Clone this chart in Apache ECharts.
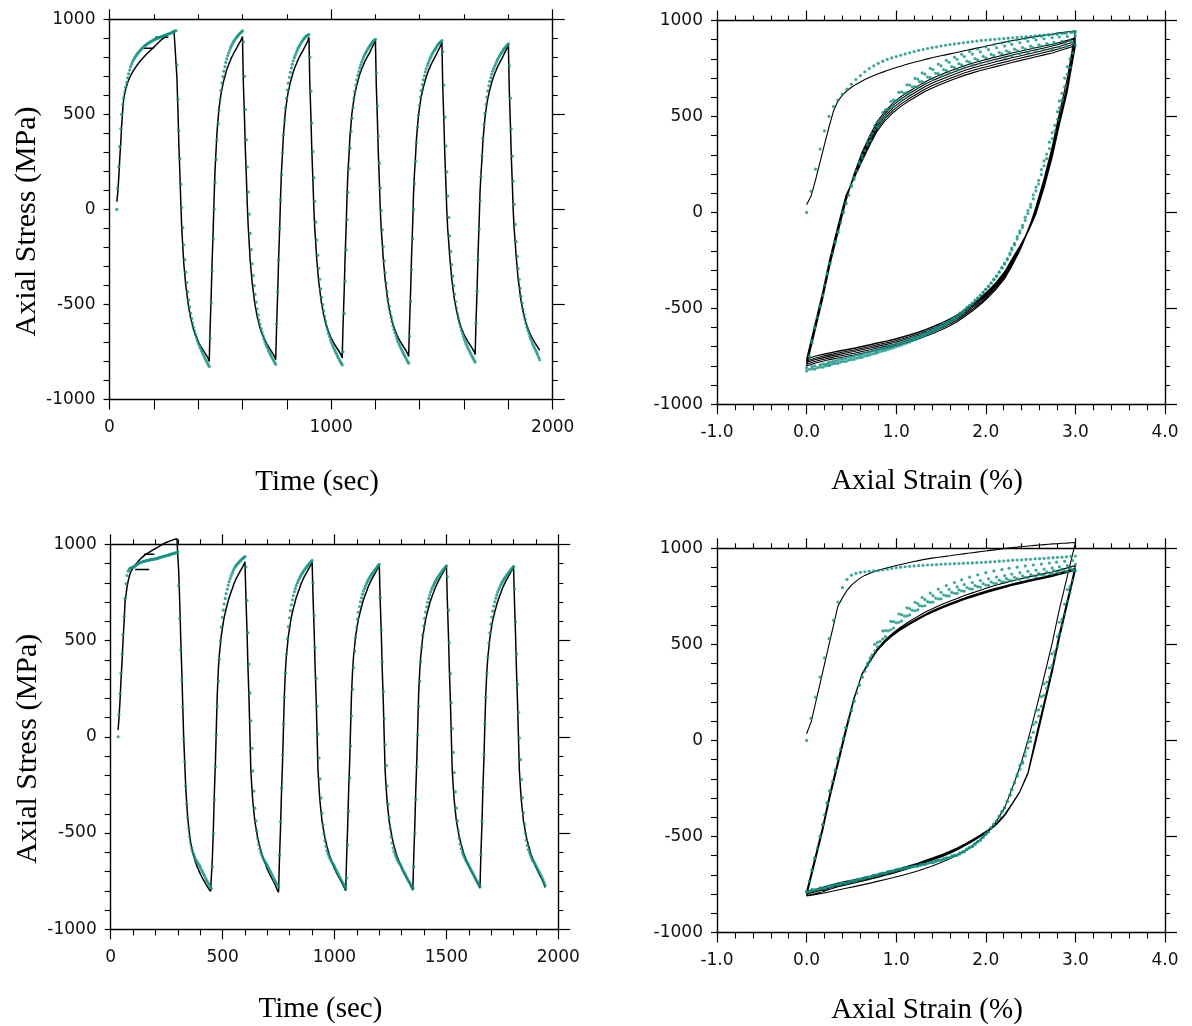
<!DOCTYPE html>
<html>
<head>
<meta charset="utf-8">
<script src="https://cdn.jsdelivr.net/npm/echarts@6/dist/echarts.min.js"></script>
<style>
html,body{margin:0;padding:0;background:#fff;}
#chart{width:1192px;height:1026px;}
</style>
</head>
<body>
<div id="chart"></div>
<script>
// ---------------- DATA ----------------
// tick labels
const stressTicks = [-1000, -500, 0, 500, 1000];
const timeTicksTop = [0, 1000, 2000];
const timeTicksBottom = [0, 500, 1000, 1500, 2000];
const strainTicks = [-1, 0, 1, 2, 3, 4];

// time (sec) of each sample
const sampleTime = [
33,37,42,46,51,55,60,64,69,73,78,82,86,91,95,100,104,109,113,118,122,126,131,135,140,144,149,153,158,162,167,171,175,180,184,189,193,198,202,207,211,215,220,224,229,233,238,242,247,251,256,260,264,269,273,278,282,287,291,296,300,
304,309,313,318,322,326,331,335,340,344,349,353,357,362,366,371,375,379,384,388,393,397,401,406,410,415,419,424,428,432,437,441,446,450,
454,459,463,468,472,476,481,485,490,494,499,503,507,512,516,521,525,529,534,538,543,547,551,556,560,565,569,574,578,582,587,591,596,600,
604,609,613,618,622,626,631,635,640,644,649,653,657,662,666,671,675,679,684,688,693,697,701,706,710,715,719,724,728,732,737,741,746,750,
754,759,763,768,772,776,781,785,790,794,799,803,807,812,816,821,825,829,834,838,843,847,851,856,860,865,869,874,878,882,887,891,896,900,
904,909,913,918,922,926,931,935,940,944,949,953,957,962,966,971,975,979,984,988,993,997,1001,1006,1010,1015,1019,1024,1028,1032,1037,1041,1046,1050,
1054,1059,1063,1068,1072,1076,1081,1085,1090,1094,1099,1103,1107,1112,1116,1121,1125,1129,1134,1138,1143,1147,1151,1156,1160,1165,1169,1174,1178,1182,1187,1191,1196,1200,
1204,1209,1213,1218,1222,1226,1231,1235,1240,1244,1249,1253,1257,1262,1266,1271,1275,1279,1284,1288,1293,1297,1301,1306,1310,1315,1319,1324,1328,1332,1337,1341,1346,1350,
1354,1359,1363,1368,1372,1376,1381,1385,1390,1394,1399,1403,1407,1412,1416,1421,1425,1429,1434,1438,1443,1447,1451,1456,1460,1465,1469,1474,1478,1482,1487,1491,1496,1500,
1504,1509,1513,1518,1522,1526,1531,1535,1540,1544,1549,1553,1557,1562,1566,1571,1575,1579,1584,1588,1593,1597,1601,1606,1610,1615,1619,1624,1628,1632,1637,1641,1646,1650,
1654,1659,1663,1668,1672,1676,1681,1685,1690,1694,1699,1703,1707,1712,1716,1721,1725,1729,1734,1738,1743,1747,1751,1756,1760,1765,1769,1774,1778,1782,1787,1791,1796,1800,
1804,1809,1813,1818,1822,1826,1831,1835,1840,1844,1849,1853,1857,1862,1866,1871,1875,1879,1884,1888,1893,1897,1901,1906,1910,1915,1919,1924,1928,1932,1937,1941
];

// axial strain (%) at each simulation output point
const sampleStrain = [
0,0.05,0.1,0.15,0.2,0.25,0.3,0.35,0.4,0.45,0.5,0.55,0.6,0.65,0.7,0.75,0.8,0.85,0.9,0.95,1,1.05,1.1,1.15,1.2,1.25,1.3,1.35,1.4,1.45,1.5,1.55,1.6,1.65,1.7,1.75,1.8,1.85,1.9,1.95,2,2.05,2.1,2.15,2.2,2.25,2.3,2.35,2.4,2.45,2.5,2.55,2.6,2.65,2.7,2.75,2.8,2.85,2.9,2.95,3,
2.91,2.82,2.74,2.65,2.56,2.47,2.38,2.29,2.21,2.12,2.03,1.94,1.85,1.76,1.68,1.59,1.5,1.41,1.32,1.24,1.15,1.06,0.97,0.88,0.79,0.71,0.62,0.53,0.44,0.35,0.26,0.18,0.09,0,
0.09,0.18,0.26,0.35,0.44,0.53,0.62,0.71,0.79,0.88,0.97,1.06,1.15,1.24,1.32,1.41,1.5,1.59,1.68,1.76,1.85,1.94,2.03,2.12,2.21,2.29,2.38,2.47,2.56,2.65,2.74,2.82,2.91,3,
2.91,2.82,2.74,2.65,2.56,2.47,2.38,2.29,2.21,2.12,2.03,1.94,1.85,1.76,1.68,1.59,1.5,1.41,1.32,1.24,1.15,1.06,0.97,0.88,0.79,0.71,0.62,0.53,0.44,0.35,0.26,0.18,0.09,0,
0.09,0.18,0.26,0.35,0.44,0.53,0.62,0.71,0.79,0.88,0.97,1.06,1.15,1.24,1.32,1.41,1.5,1.59,1.68,1.76,1.85,1.94,2.03,2.12,2.21,2.29,2.38,2.47,2.56,2.65,2.74,2.82,2.91,3,
2.91,2.82,2.74,2.65,2.56,2.47,2.38,2.29,2.21,2.12,2.03,1.94,1.85,1.76,1.68,1.59,1.5,1.41,1.32,1.24,1.15,1.06,0.97,0.88,0.79,0.71,0.62,0.53,0.44,0.35,0.26,0.18,0.09,0,
0.09,0.18,0.26,0.35,0.44,0.53,0.62,0.71,0.79,0.88,0.97,1.06,1.15,1.24,1.32,1.41,1.5,1.59,1.68,1.76,1.85,1.94,2.03,2.12,2.21,2.29,2.38,2.47,2.56,2.65,2.74,2.82,2.91,3,
2.91,2.82,2.74,2.65,2.56,2.47,2.38,2.29,2.21,2.12,2.03,1.94,1.85,1.76,1.68,1.59,1.5,1.41,1.32,1.24,1.15,1.06,0.97,0.88,0.79,0.71,0.62,0.53,0.44,0.35,0.26,0.18,0.09,0,
0.09,0.18,0.26,0.35,0.44,0.53,0.62,0.71,0.79,0.88,0.97,1.06,1.15,1.24,1.32,1.41,1.5,1.59,1.68,1.76,1.85,1.94,2.03,2.12,2.21,2.29,2.38,2.47,2.56,2.65,2.74,2.82,2.91,3,
2.91,2.82,2.74,2.65,2.56,2.47,2.38,2.29,2.21,2.12,2.03,1.94,1.85,1.76,1.68,1.59,1.5,1.41,1.32,1.24,1.15,1.06,0.97,0.88,0.79,0.71,0.62,0.53,0.44,0.35,0.26,0.18,0.09,0,
0.09,0.18,0.26,0.35,0.44,0.53,0.62,0.71,0.79,0.88,0.97,1.06,1.15,1.24,1.32,1.41,1.5,1.59,1.68,1.76,1.85,1.94,2.03,2.12,2.21,2.29,2.38,2.47,2.56,2.65,2.74,2.82,2.91,3,
2.91,2.82,2.74,2.65,2.56,2.47,2.38,2.29,2.21,2.12,2.03,1.94,1.85,1.76,1.68,1.59,1.5,1.41,1.32,1.24,1.15,1.06,0.97,0.88,0.79,0.71,0.62,0.53,0.44,0.35,0.26,0.18
];

// axial strain (%) at each recorded experimental sample (sampling drifts from cycle to cycle)
const expStrain = [
0,0.05,0.1,0.15,0.2,0.25,0.3,0.35,0.4,0.45,0.5,0.55,0.6,0.65,0.7,0.75,0.8,0.85,0.9,0.95,1,1.05,1.1,1.15,1.2,1.25,1.3,1.35,1.4,1.45,1.5,1.55,1.6,1.65,1.7,1.75,1.8,1.85,1.9,1.95,2,2.05,2.1,2.15,2.2,2.25,2.3,2.35,2.4,2.45,2.5,2.55,2.6,2.65,2.7,2.75,2.8,2.85,2.9,2.95,3,
2.91,2.82,2.74,2.65,2.56,2.47,2.38,2.29,2.21,2.12,2.03,1.94,1.85,1.76,1.68,1.59,1.5,1.41,1.32,1.24,1.15,1.06,0.97,0.88,0.79,0.71,0.62,0.53,0.44,0.35,0.26,0.18,0.09,0,
0.06,0.15,0.23,0.32,0.41,0.50,0.59,0.68,0.76,0.85,0.94,1.03,1.12,1.21,1.29,1.38,1.47,1.56,1.65,1.73,1.82,1.91,2.00,2.09,2.18,2.26,2.35,2.44,2.53,2.62,2.71,2.79,2.88,2.97,
2.97,2.88,2.80,2.71,2.62,2.53,2.44,2.35,2.27,2.18,2.09,2.00,1.91,1.82,1.74,1.65,1.56,1.47,1.38,1.30,1.21,1.12,1.03,0.94,0.85,0.77,0.68,0.59,0.50,0.41,0.32,0.24,0.15,0.06,
0.09,0.18,0.26,0.35,0.44,0.53,0.62,0.71,0.79,0.88,0.97,1.06,1.15,1.24,1.32,1.41,1.5,1.59,1.68,1.76,1.85,1.94,2.03,2.12,2.21,2.29,2.38,2.47,2.56,2.65,2.74,2.82,2.91,3,
2.94,2.85,2.77,2.68,2.59,2.50,2.41,2.32,2.24,2.15,2.06,1.97,1.88,1.79,1.71,1.62,1.53,1.44,1.35,1.27,1.18,1.09,1.00,0.91,0.82,0.74,0.65,0.56,0.47,0.38,0.29,0.21,0.12,0.03,
0.03,0.12,0.20,0.29,0.38,0.47,0.56,0.65,0.73,0.82,0.91,1.00,1.09,1.18,1.26,1.35,1.44,1.53,1.62,1.70,1.79,1.88,1.97,2.06,2.15,2.23,2.32,2.41,2.50,2.59,2.68,2.76,2.85,2.94,
2.91,2.82,2.74,2.65,2.56,2.47,2.38,2.29,2.21,2.12,2.03,1.94,1.85,1.76,1.68,1.59,1.5,1.41,1.32,1.24,1.15,1.06,0.97,0.88,0.79,0.71,0.62,0.53,0.44,0.35,0.26,0.18,0.09,0,
0.06,0.15,0.23,0.32,0.41,0.50,0.59,0.68,0.76,0.85,0.94,1.03,1.12,1.21,1.29,1.38,1.47,1.56,1.65,1.73,1.82,1.91,2.00,2.09,2.18,2.26,2.35,2.44,2.53,2.62,2.71,2.79,2.88,2.97,
2.97,2.88,2.80,2.71,2.62,2.53,2.44,2.35,2.27,2.18,2.09,2.00,1.91,1.82,1.74,1.65,1.56,1.47,1.38,1.30,1.21,1.12,1.03,0.94,0.85,0.77,0.68,0.59,0.50,0.41,0.32,0.24,0.15,0.06,
0.09,0.18,0.26,0.35,0.44,0.53,0.62,0.71,0.79,0.88,0.97,1.06,1.15,1.24,1.32,1.41,1.5,1.59,1.68,1.76,1.85,1.94,2.03,2.12,2.21,2.29,2.38,2.47,2.56,2.65,2.74,2.82,2.91,3,
2.94,2.85,2.77,2.68,2.59,2.50,2.41,2.32,2.24,2.15,2.06,1.97,1.88,1.79,1.71,1.62,1.53,1.44,1.35,1.27,1.18,1.09,1.00,0.91,0.82,0.74,0.65,0.56,0.47,0.38,0.29,0.21
];

// Upper row: experiment (dots), MPa
const expStressA = [
0,110,225,330,425,500,552,585,615,643,668,692,713,733,750,764,777,788,797,805,812,819,826,832,838,844,849,854,859,863,867,871,875,878,881,884,887,890,893,896,898,900,902,904,906,908,910,912,914,916,918,920,922,924,926,928,930,932,935,938,941,
760,580,415,268,132,10,-96,-186,-264,-330,-385,-433,-476,-513,-546,-574,-598,-620,-640,-658,-675,-691,-705,-718,-731,-743,-755,-766,-777,-787,-797,-807,-817,-826,
-679,-492,-324,-156,1,141,263,367,452,521,578,625,665,698,727,751,773,792,809,824,838,852,863,874,883,891,899,906,912,918,924,929,934,939,
881,700,525,366,223,91,-25,-126,-212,-286,-348,-401,-447,-488,-524,-555,-582,-605,-627,-646,-664,-680,-696,-709,-722,-734,-746,-757,-767,-777,-787,-797,-806,-815,
-603,-433,-267,-101,50,182,298,394,470,534,585,628,664,695,721,744,764,782,798,812,825,837,848,858,867,876,884,892,899,905,910,914,917,920,
800,621,454,304,167,42,-67,-161,-241,-310,-368,-418,-462,-501,-534,-564,-589,-612,-632,-651,-668,-685,-699,-713,-725,-737,-748,-759,-770,-780,-790,-800,-809,-818,
-749,-547,-379,-213,-53,90,215,322,410,479,536,583,621,654,681,705,725,744,760,775,788,801,813,823,833,842,851,859,866,873,880,886,891,895,
720,545,385,243,112,-6,-108,-195,-270,-333,-386,-432,-473,-509,-540,-567,-591,-612,-631,-648,-664,-679,-693,-706,-718,-729,-740,-751,-761,-771,-781,-791,-800,-809,
-667,-484,-318,-154,0,135,253,352,432,496,548,591,626,656,681,703,723,740,755,769,783,795,806,817,826,835,843,851,859,867,873,878,883,888,
830,654,485,333,197,71,-42,-139,-221,-291,-351,-401,-446,-485,-519,-549,-575,-598,-618,-637,-653,-669,-684,-697,-710,-722,-733,-744,-754,-764,-774,-784,-794,-803,
-597,-430,-266,-103,45,172,283,374,446,505,552,591,623,650,673,693,711,727,741,754,766,778,789,799,808,817,825,833,840,847,853,859,865,871,
756,585,424,280,148,27,-79,-170,-247,-312,-368,-415,-457,-493,-525,-553,-578,-600,-620,-637,-654,-669,-683,-697,-709,-721,-732,-743,-754,-765,-778,-791
];

// Upper row: simulation (line), MPa
const simStressA = [
40,85,170,262,355,445,528,580,612,634,652,667,680,692,703,713,722,731,739,747,755,762,769,776,782,788,794,800,806,811,816,821,826,831,836,841,846,851,856,861,866,871,876,881,886,891,896,900,904,908,912,916,920,923,926,930,934,937,940,943,946,
700,515,340,175,30,-100,-200,-280,-345,-398,-442,-480,-514,-544,-570,-593,-613,-631,-647,-661,-674,-686,-697,-707,-716,-725,-734,-743,-751,-759,-767,-776,-786,-800,
-625,-450,-275,-105,60,200,315,405,475,530,572,605,633,658,680,700,718,735,750,764,777,789,800,811,821,831,840,849,858,867,876,885,897,910,
666,486,316,158,18,-91,-191,-271,-336,-389,-433,-471,-505,-535,-561,-584,-604,-622,-638,-652,-665,-677,-688,-698,-707,-716,-725,-734,-742,-750,-758,-767,-777,-791,
-616,-441,-266,-96,67,200,303,393,463,518,560,593,621,646,668,688,706,723,738,752,765,777,788,799,809,819,829,838,848,857,867,877,890,906,
662,482,312,152,10,-95,-182,-262,-327,-380,-424,-462,-496,-526,-552,-575,-595,-613,-629,-643,-656,-668,-679,-689,-698,-707,-716,-725,-733,-741,-749,-758,-768,-782,
-607,-432,-257,-87,75,195,292,380,450,505,547,580,608,633,655,675,693,710,725,739,752,764,775,786,796,806,815,825,835,845,855,865,878,892,
650,470,300,140,0,-100,-180,-254,-319,-372,-416,-454,-488,-518,-544,-567,-587,-605,-621,-635,-648,-660,-671,-681,-690,-699,-708,-717,-725,-733,-741,-750,-760,-774,
-599,-424,-249,-79,83,185,280,367,437,492,534,567,595,620,642,662,680,697,712,726,739,751,762,773,783,793,803,813,823,833,843,853,866,880,
640,462,293,135,-3,-100,-175,-244,-309,-362,-406,-444,-478,-508,-534,-557,-577,-595,-611,-625,-638,-650,-661,-671,-680,-689,-698,-707,-715,-723,-731,-740,-750,-764,
-589,-414,-239,-69,90,178,268,355,425,480,522,555,583,608,630,650,668,685,700,714,727,739,750,761,771,781,791,801,811,821,831,842,855,869,
630,453,285,128,-8,-103,-177,-246,-311,-364,-408,-446,-480,-510,-536,-559,-579,-597,-613,-627,-640,-652,-663,-673,-682,-691,-700,-709,-717,-725,-733,-742
];

// Lower row: experiment (dots), MPa
const expStressB = [
0,115,225,330,430,530,625,720,795,838,860,869,875,878,880,882,884,887,891,895,899,902,904,906,908,910,911,913,914,915,917,918,919,920,921,922,923,924,925,926,928,929,931,933,934,936,938,939,940,942,943,945,946,948,950,951,953,954,956,958,960,
785,615,450,295,155,-10,-130,-255,-350,-420,-476,-519,-552,-578,-597,-611,-623,-635,-645,-654,-662,-670,-680,-692,-702,-712,-722,-734,-745,-753,-762,-770,-779,-789,
-676,-502,-327,-156,8,157,288,403,500,570,620,658,690,719,744,767,788,806,822,836,850,862,873,882,889,896,902,908,913,918,923,928,932,936,
882,708,540,378,228,83,-60,-177,-282,-371,-437,-488,-528,-559,-582,-600,-613,-625,-636,-646,-655,-663,-671,-682,-692,-702,-712,-723,-735,-745,-753,-762,-770,-779,
-615,-440,-265,-95,65,205,330,430,510,572,618,655,686,712,734,754,771,786,799,811,822,832,841,850,858,866,873,880,886,892,898,904,910,917,
800,629,462,304,159,14,-110,-219,-318,-397,-457,-505,-541,-569,-591,-606,-619,-631,-642,-651,-659,-667,-677,-688,-699,-709,-719,-730,-741,-750,-759,-768,-777,-787,
-733,-562,-387,-213,-47,108,247,360,445,515,570,612,647,677,701,722,741,757,771,784,796,806,816,825,834,842,849,856,863,870,877,884,890,896,
725,555,390,235,95,-40,-150,-255,-350,-420,-476,-519,-552,-578,-597,-611,-623,-635,-645,-654,-662,-670,-680,-691,-701,-711,-721,-732,-743,-751,-760,-769,-778,-787,
-674,-500,-325,-154,10,158,288,389,466,528,576,615,648,675,699,719,736,752,766,778,789,800,809,818,826,834,842,849,856,863,870,876,882,888,
832,658,490,328,178,42,-81,-186,-286,-371,-436,-487,-527,-558,-581,-599,-612,-624,-635,-645,-654,-662,-670,-681,-691,-701,-711,-722,-732,-742,-750,-759,-768,-776,
-612,-437,-262,-92,68,205,330,415,487,540,585,622,653,679,701,720,737,752,765,777,788,798,807,816,824,832,839,846,853,860,867,873,879,885,
768,597,430,272,127,-5,-119,-222,-317,-394,-454,-501,-537,-565,-586,-601,-614,-626,-637,-646,-654,-662,-672,-682,-693,-703,-713,-723,-734,-744,-757,-771
];

// Lower row: simulation (line), MPa
const simStressB = [
35,95,195,296,397,498,599,700,742,780,808,828,846,859,869,878,886,892,898,904,910,916,921,926,931,936,941,945,949,952,955,958,961,965,968,971,974,977,980,983,986,989,992,995,998,1001,1004,1006,1009,1011,1013,1015,1017,1019,1021,1023,1024,1026,1027,1029,1030,
855,680,505,330,160,0,-140,-255,-350,-420,-475,-515,-548,-575,-598,-618,-636,-652,-667,-680,-692,-703,-714,-724,-734,-743,-752,-761,-770,-779,-788,-796,-803,-810,
-640,-470,-298,-127,44,215,350,420,478,525,562,593,620,645,667,687,706,723,739,754,768,782,796,809,820,830,840,850,859,868,877,886,897,909,
731,553,375,197,19,-168,-268,-335,-392,-438,-472,-500,-526,-550,-570,-590,-607,-622,-637,-651,-665,-679,-691,-702,-713,-723,-733,-742,-752,-762,-775,-788,-798,-808,
-638,-468,-296,-125,46,216,350,420,478,525,562,593,620,645,667,687,706,723,739,754,768,782,796,809,820,830,840,850,859,868,877,887,898,910,
732,554,376,198,20,-168,-266,-333,-390,-436,-470,-498,-524,-548,-568,-588,-605,-620,-635,-649,-663,-676,-688,-699,-710,-720,-729,-738,-747,-756,-767,-778,-789,-800,
-630,-460,-288,-117,54,222,348,416,473,519,555,585,611,635,656,676,694,711,727,741,755,768,781,793,804,814,824,834,843,852,862,872,883,895,
717,539,361,183,5,-172,-268,-334,-390,-436,-470,-497,-523,-547,-567,-586,-603,-618,-633,-647,-660,-673,-685,-696,-707,-717,-726,-735,-744,-753,-764,-775,-786,-797,
-627,-457,-285,-114,57,222,346,414,470,516,552,582,608,632,653,673,691,707,723,737,751,764,777,789,800,810,820,830,839,848,858,868,879,890,
712,534,356,178,0,-172,-266,-331,-386,-431,-465,-492,-517,-540,-560,-579,-596,-611,-625,-639,-652,-664,-676,-687,-697,-707,-716,-725,-734,-743,-754,-765,-776,-787,
-617,-447,-275,-104,67,224,344,412,468,513,549,579,605,628,649,669,687,703,719,733,747,760,773,785,796,806,816,826,835,844,854,864,874,885,
707,529,351,173,-5,-174,-268,-333,-388,-433,-467,-494,-519,-542,-562,-581,-598,-613,-628,-642,-655,-668,-680,-691,-702,-712,-722,-732,-742,-753,-767,-783
];

// short stray segments of the simulation trace in the time plots
const strayTimeA = [154, 199, null, 206, 266];
const strayStressA = [848, 848, null, 906, 906];
const strayTimeB = [109, 172, null, 150, 195];
const strayStressB = [869, 869, null, 948, 948];

// ---------------- CHECK ----------------
[['sampleStrain', sampleStrain], ['expStrain', expStrain], ['expStressA', expStressA], ['simStressA', simStressA],
 ['expStressB', expStressB], ['simStressB', simStressB]].forEach(([n, a]) => {
  if (a.length !== sampleTime.length) throw new Error(n + ' length ' + a.length + ' vs ' + sampleTime.length);
});

// ---------------- CHART ----------------
const pairs = (xs, ys) => xs.map((x, i) => (x === null ? [null, null] : [x, ys[i]]));
const DOT = '#0f9282';
const LABEL_FONT = 'DejaVu Sans';
const TITLE_FONT = 'Liberation Serif';

function axisCommon(min, max, interval, tickLen, minorLen) {
  return {
    type: 'value', min: min, max: max, interval: interval,
    axisLine: { show: true, onZero: false, lineStyle: { color: '#000', width: 1.4 } },
    axisTick: { show: true, inside: false, length: tickLen, lineStyle: { color: '#000', width: 1.2 } },
    minorTick: { show: true, splitNumber: 5, length: minorLen, lineStyle: { color: '#000', width: 1.1 } },
    splitLine: { show: false }, minorSplitLine: { show: false }
  };
}
function labelStyle(fmt, margin) {
  return { show: true, formatter: fmt, margin: margin, color: '#111', fontFamily: LABEL_FONT, fontSize: 17 };
}
const fmtList = (list, dec) => (v) => {
  const hit = list.find(t => Math.abs(t - v) < 1e-9);
  return hit === undefined ? '' : (dec ? hit.toFixed(dec) : String(hit));
};

const grids = [
  { left: 109.5, top: 19.3, width: 443.2, height: 380.2 },
  { left: 717, top: 20.5, width: 448, height: 383.8 },
  { left: 110.7, top: 544.3, width: 447.6, height: 385 },
  { left: 717, top: 548.3, width: 448, height: 384.2 }
];

const xTitleStyle = { fontFamily: TITLE_FONT, fontSize: 29, color: '#000', padding: [0, 28, 0, 0] };
const yTitleStyle = { fontFamily: TITLE_FONT, fontSize: 30, color: '#000', padding: [0, 24, 0, 0] };

const xAxes = [];
const yAxes = [];
const panels = [
  { x: [0, 2000, 1000], xt: timeTicksTop, xdec: 0, xname: 'Time (sec)', xgap: 68, yname: 'Axial Stress (MPa)', ygap: 67, bottomMinor: 10 },
  { x: [-1, 4, 1], xt: strainTicks, xdec: 1, xname: 'Axial Strain (%)', xgap: 63, yname: '', ygap: 0, bottomMinor: 6 },
  { x: [0, 2000, 500], xt: timeTicksBottom, xdec: 0, xname: 'Time (sec)', xgap: 66, yname: 'Axial Stress (MPa)', ygap: 68, bottomMinor: 6 },
  { x: [-1, 4, 1], xt: strainTicks, xdec: 1, xname: 'Axial Strain (%)', xgap: 63, yname: '', ygap: 0, bottomMinor: 6 }
];
panels.forEach((p, g) => {
  const bx = axisCommon(p.x[0], p.x[1], p.x[2], 10, p.bottomMinor);
  Object.assign(bx, { gridIndex: g, position: 'bottom', axisLabel: labelStyle(fmtList(p.xt, p.xdec), 20),
    name: p.xname, nameLocation: 'middle', nameGap: p.xgap, nameTextStyle: xTitleStyle });
  const tx = axisCommon(p.x[0], p.x[1], p.x[2], 10, 5);
  Object.assign(tx, { gridIndex: g, position: 'top', axisLabel: { show: false } });
  xAxes.push(bx, tx);
  const ly = axisCommon(-1000, 1000, 500, 6, 6);
  Object.assign(ly, { gridIndex: g, position: 'left', axisLabel: labelStyle(fmtList(stressTicks, 0), 14) });
  if (p.yname) Object.assign(ly, { name: p.yname, nameLocation: 'middle', nameGap: p.ygap, nameRotate: 90, nameTextStyle: yTitleStyle });
  const ry = axisCommon(-1000, 1000, 500, 12, 5);
  Object.assign(ry, { gridIndex: g, position: 'right', axisLabel: { show: false } });
  yAxes.push(ly, ry);
});

function simLine(g, data, w) {
  return { type: 'line', xAxisIndex: 2 * g, yAxisIndex: 2 * g, data: data, showSymbol: false, symbol: 'none',
    lineStyle: { color: '#000', width: w }, connectNulls: false, clip: false, z: 2, silent: true };
}
function expDots(g, data) {
  return { type: 'scatter', xAxisIndex: 2 * g, yAxisIndex: 2 * g, data: data, symbol: 'circle', symbolSize: 3.2,
    itemStyle: { color: DOT }, clip: false, z: 3, silent: true };
}

const series = [
  simLine(0, pairs(sampleTime, simStressA), 1.5),
  simLine(0, pairs(strayTimeA, strayStressA), 1.5),
  expDots(0, pairs(sampleTime, expStressA)),
  simLine(1, pairs(sampleStrain, simStressA), 1.1),
  expDots(1, pairs(expStrain, expStressA)),
  simLine(2, pairs(sampleTime, simStressB), 1.5),
  simLine(2, pairs(strayTimeB, strayStressB), 1.5),
  expDots(2, pairs(sampleTime, expStressB)),
  simLine(3, pairs(sampleStrain, simStressB), 1.1),
  expDots(3, pairs(expStrain, expStressB))
];

const chart = echarts.init(document.getElementById('chart'), null, { renderer: 'canvas' });
chart.setOption({
  animation: false,
  backgroundColor: '#fff',
  grid: grids,
  xAxis: xAxes,
  yAxis: yAxes,
  series: series
});
</script>
</body>
</html>
